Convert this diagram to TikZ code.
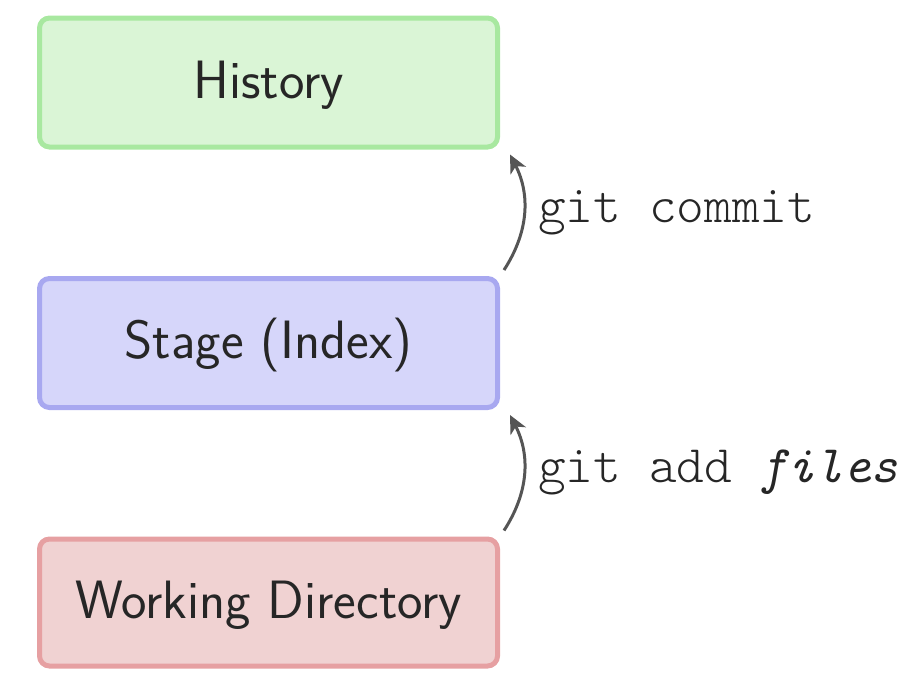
\documentclass[tikz,border=0pt]{standalone}
\usepackage{fontspec}
\setmonofont{lmmonolt10-regular.otf}[ItalicFont=lmmono10-italic.otf]
\usetikzlibrary{arrows.meta,calc}
\definecolor{hfill}{RGB}{218,245,214}
\definecolor{hdraw}{RGB}{168,232,160}
\definecolor{sfill}{RGB}{214,214,250}
\definecolor{sdraw}{RGB}{168,168,240}
\definecolor{wfill}{RGB}{240,210,210}
\definecolor{wdraw}{RGB}{230,160,162}
\definecolor{arrgray}{RGB}{85,85,85}
\begin{document}
\begin{tikzpicture}[x=1pt,y=-1pt,
  areabox/.style={rectangle,rounded corners=10pt,line width=5pt,minimum width=458pt,
    minimum height=129pt,inner sep=0pt,text height=37pt,text depth=6pt,
    font=\sffamily\fontsize{54}{60}\selectfont,text=black!85},
  cmdarrow/.style={draw=arrgray,line width=3pt,-{Stealth[length=18pt,width=17pt,inset=5pt]}},
  cmdlabel/.style={anchor=base west,inner sep=0pt,font=\ttfamily\fontsize{52.8}{60}\selectfont,text=black!85}]
\useasboundingbox (0,0) rectangle (910,672);
\node[areabox,fill=hfill,draw=hdraw] (hist) at (268.5,82.5) {History};
\node[areabox,fill=sfill,draw=sdraw] (stage) at (268.5,343) {Stage (Index)};
\node[areabox,fill=wfill,draw=wdraw,minimum height=127pt] (wd) at (268.5,602.5) {Working Directory};
\draw[cmdarrow] ($(stage.north east)+(4,-6)$) to[bend right=30] ($(hist.south east)+(10,5)$);
\draw[cmdarrow] ($(wd.north east)+(4,-6)$) to[bend right=30] ($(stage.south east)+(10,5)$);
\node[cmdlabel] (commit) at (538,222) {git commit};
\node[cmdlabel] (add) at (538,482) {git add \textit{files}};
\end{tikzpicture}
\end{document}
